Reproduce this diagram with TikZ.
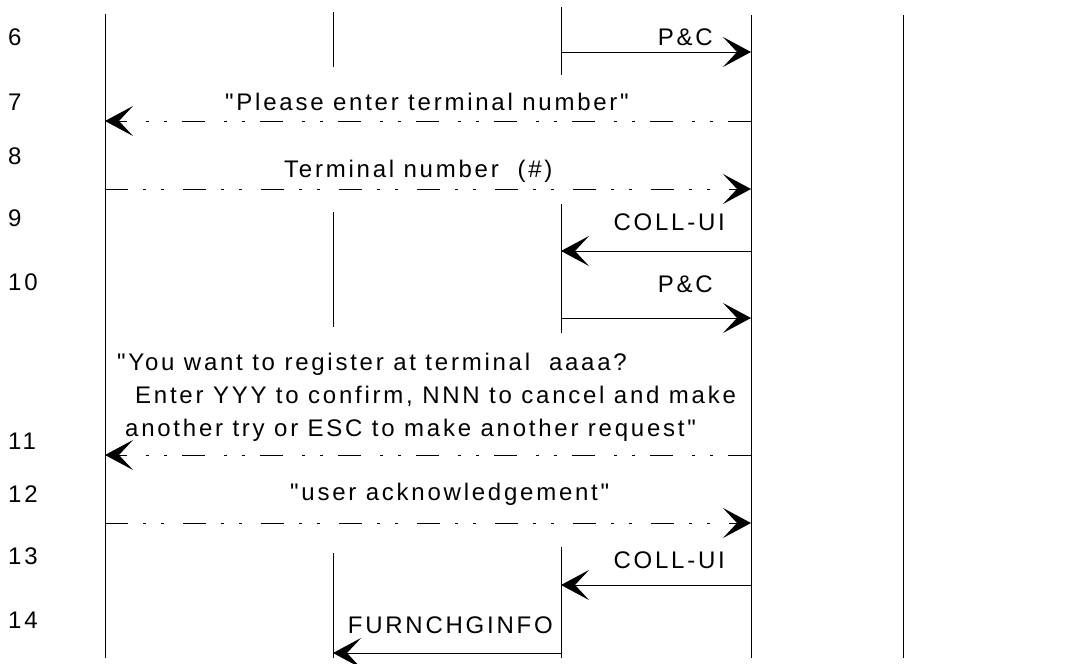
\documentclass[tikz,border=0pt]{standalone}
\usepackage{fontspec}
\newfontfamily\lbfont{Liberation Sans}[LetterSpace=11.5]
\usetikzlibrary{arrows.meta}
\begin{document}
\begin{tikzpicture}[x=1pt,y=-1pt,
  lbl/.style={font=\lbfont\fontsize{24}{33}\selectfont, inner sep=0pt},
  life/.style={line width=0.9pt},
  msg/.style={line width=0.9pt, -{Stealth[length=28pt,width=30pt,inset=14pt]}},
  dmsg/.style={msg, dash pattern=on 23pt off 15pt on 3pt off 15pt on 3pt off 19pt}]
\useasboundingbox (0,0) rectangle (1085,664);
% lifelines
\coordinate (L1t) at (105,14);  \coordinate (L1b) at (105,658);
\coordinate (L2a) at (333,12);  \coordinate (L2b) at (333,67);
\coordinate (L2c) at (333,212); \coordinate (L2d) at (333,327);
\coordinate (L2e) at (333,553); \coordinate (L2f) at (333,658);
\coordinate (L3a) at (561,7);   \coordinate (L3b) at (561,75);
\coordinate (L3c) at (561,204); \coordinate (L3d) at (561,333);
\coordinate (L3e) at (561,547); \coordinate (L3f) at (561,658);
\coordinate (L4t) at (751,15);  \coordinate (L4b) at (751,658);
\coordinate (L5t) at (903,15);  \coordinate (L5b) at (903,658);
\draw[life] (L1t) -- (L1b);
\draw[life] (L2a) -- (L2b);
\draw[life] (L2c) -- (L2d);
\draw[life] (L2e) -- (L2f);
\draw[life] (L3a) -- (L3b);
\draw[life] (L3c) -- (L3d);
\draw[life] (L3e) -- (L3f);
\draw[life] (L4t) -- (L4b);
\draw[life] (L5t) -- (L5b);
% message end points
\coordinate (a6) at (561,52);  \coordinate (b6) at (751,52);
\coordinate (a7) at (751,121); \coordinate (b7) at (105,121);
\coordinate (a8) at (105,189); \coordinate (b8) at (751,189);
\coordinate (a9) at (751,251); \coordinate (b9) at (561,251);
\coordinate (a10) at (561,318); \coordinate (b10) at (751,318);
\coordinate (a11) at (751,455); \coordinate (b11) at (105,455);
\coordinate (a12) at (105,523); \coordinate (b12) at (751,523);
\coordinate (a13) at (751,585); \coordinate (b13) at (561,585);
\coordinate (a14) at (561,653); \coordinate (b14) at (333,653);
\draw[msg] (a6) -- (b6);
\draw[dmsg] (a7) -- (b7);
\draw[dmsg] (a8) -- (b8);
\draw[msg] (a9) -- (b9);
\draw[msg] (a10) -- (b10);
\draw[dmsg] (a11) -- (b11);
\draw[dmsg] (a12) -- (b12);
\draw[msg] (a13) -- (b13);
\draw[msg] (a14) -- (b14);
% row numbers
\node[lbl, anchor=base west] (n6) at (8,45) {6};
\node[lbl, anchor=base west] (n7) at (8,110) {7};
\node[lbl, anchor=base west] (n8) at (8,164) {8};
\node[lbl, anchor=base west] (n9) at (8,226) {9};
\node[lbl, anchor=base west] (n10) at (8,290) {10};
\node[lbl, anchor=base west] (n11) at (8,449) {11};
\node[lbl, anchor=base west] (n12) at (8,502) {12};
\node[lbl, anchor=base west] (n13) at (8,564) {13};
\node[lbl, anchor=base west] (n14) at (8,628) {14};
% message labels
\node[lbl, anchor=base east] (t6) at (713,45) {P\&C};
\node[lbl, anchor=base west] (t7) at (225,110) {"Please enter terminal number"};
\node[lbl, anchor=base west] (t8) at (284,177) {Terminal number\ \ (\#)};
\node[lbl, anchor=base east] (t9) at (725,230) {COLL-UI};
\node[lbl, anchor=base east] (t10) at (713,292) {P\&C};
\node[lbl, anchor=base west] (t11a) at (117,370) {"You want to register at terminal\ \ aaaa?};
\node[lbl, anchor=base west] (t11b) at (135,403) {Enter YYY to confirm, NNN to cancel and make};
\node[lbl, anchor=base west] (t11c) at (125,436) {another try or ESC to make another request"};
\node[lbl, anchor=base west] (t12) at (290,500) {"user acknowledgement"};
\node[lbl, anchor=base east] (t13) at (725,568) {COLL-UI};
\node[lbl, anchor=base east] (t14) at (553,633) {FURNCHGINFO};
\end{tikzpicture}
\end{document}
